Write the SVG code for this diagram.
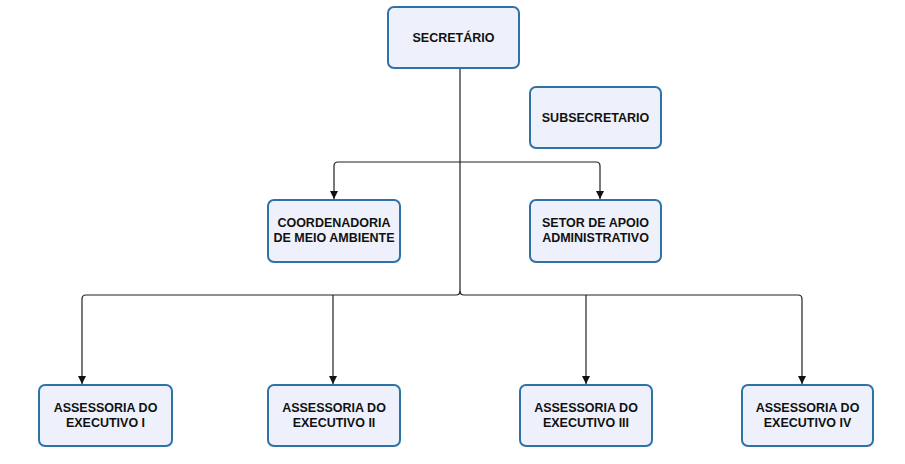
<svg xmlns="http://www.w3.org/2000/svg" width="905" height="464" viewBox="0 0 905 464">
<style>
.box{fill:#eef1fb;stroke:#2f72a6;stroke-width:2}
.t{font-family:"Liberation Sans",Arial,sans-serif;font-weight:bold;font-size:12.5px;fill:#111;text-anchor:middle}
.c{fill:none;stroke:#222;stroke-width:1.2}
</style>
<defs>
<marker id="a" viewBox="0 0 10 10" refX="10" refY="5" markerWidth="8" markerHeight="8" markerUnits="userSpaceOnUse" orient="auto">
<path d="M0,0 L10,5 L0,10 Z" fill="#111"/>
</marker>
</defs>
<rect width="905" height="464" fill="#fff"/>
<g id="connectors">
<path class="c" d="M460,68 V291 Q460,295 456,295 H86 Q82,295 82,299 V384" marker-end="url(#a)"/>
<path class="c" d="M460,291 Q460,295 464,295 H798 Q802,295 802,299 V384" marker-end="url(#a)"/>
<path class="c" d="M333,295 V384" marker-end="url(#a)"/>
<path class="c" d="M586,295 V384" marker-end="url(#a)"/>
<path class="c" d="M460,162 H338 Q334,162 334,166 V199" marker-end="url(#a)"/>
<path class="c" d="M460,162 H596 Q600,162 600,166 V199" marker-end="url(#a)"/>
</g>
<g id="secretario"><rect class="box" x="388" y="7" width="131" height="61" rx="6"/><text class="t" x="453.5" y="42">SECRETÁRIO</text></g>
<g id="subsecretario"><rect class="box" x="530" y="87" width="131" height="61" rx="6"/><text class="t" x="595.5" y="122">SUBSECRETARIO</text></g>
<g id="coordenadoria"><rect class="box" x="268" y="200" width="132" height="62" rx="6"/><text class="t" x="334" y="227">COORDENADORIA</text><text class="t" x="334" y="242">DE MEIO AMBIENTE</text></g>
<g id="setor"><rect class="box" x="530" y="200" width="131" height="62" rx="6"/><text class="t" x="595.5" y="227">SETOR DE APOIO</text><text class="t" x="595.5" y="242">ADMINISTRATIVO</text></g>
<g id="ass1"><rect class="box" x="39" y="385" width="133" height="61" rx="6"/><text class="t" x="105.5" y="412">ASSESSORIA DO</text><text class="t" x="105.5" y="427">EXECUTIVO I</text></g>
<g id="ass2"><rect class="box" x="268" y="385" width="132" height="61" rx="6"/><text class="t" x="334" y="412">ASSESSORIA DO</text><text class="t" x="334" y="427">EXECUTIVO II</text></g>
<g id="ass3"><rect class="box" x="520" y="385" width="132" height="61" rx="6"/><text class="t" x="586" y="412">ASSESSORIA DO</text><text class="t" x="586" y="427">EXECUTIVO III</text></g>
<g id="ass4"><rect class="box" x="742" y="385" width="131" height="61" rx="6"/><text class="t" x="807.5" y="412">ASSESSORIA DO</text><text class="t" x="807.5" y="427">EXECUTIVO IV</text></g>
</svg>
